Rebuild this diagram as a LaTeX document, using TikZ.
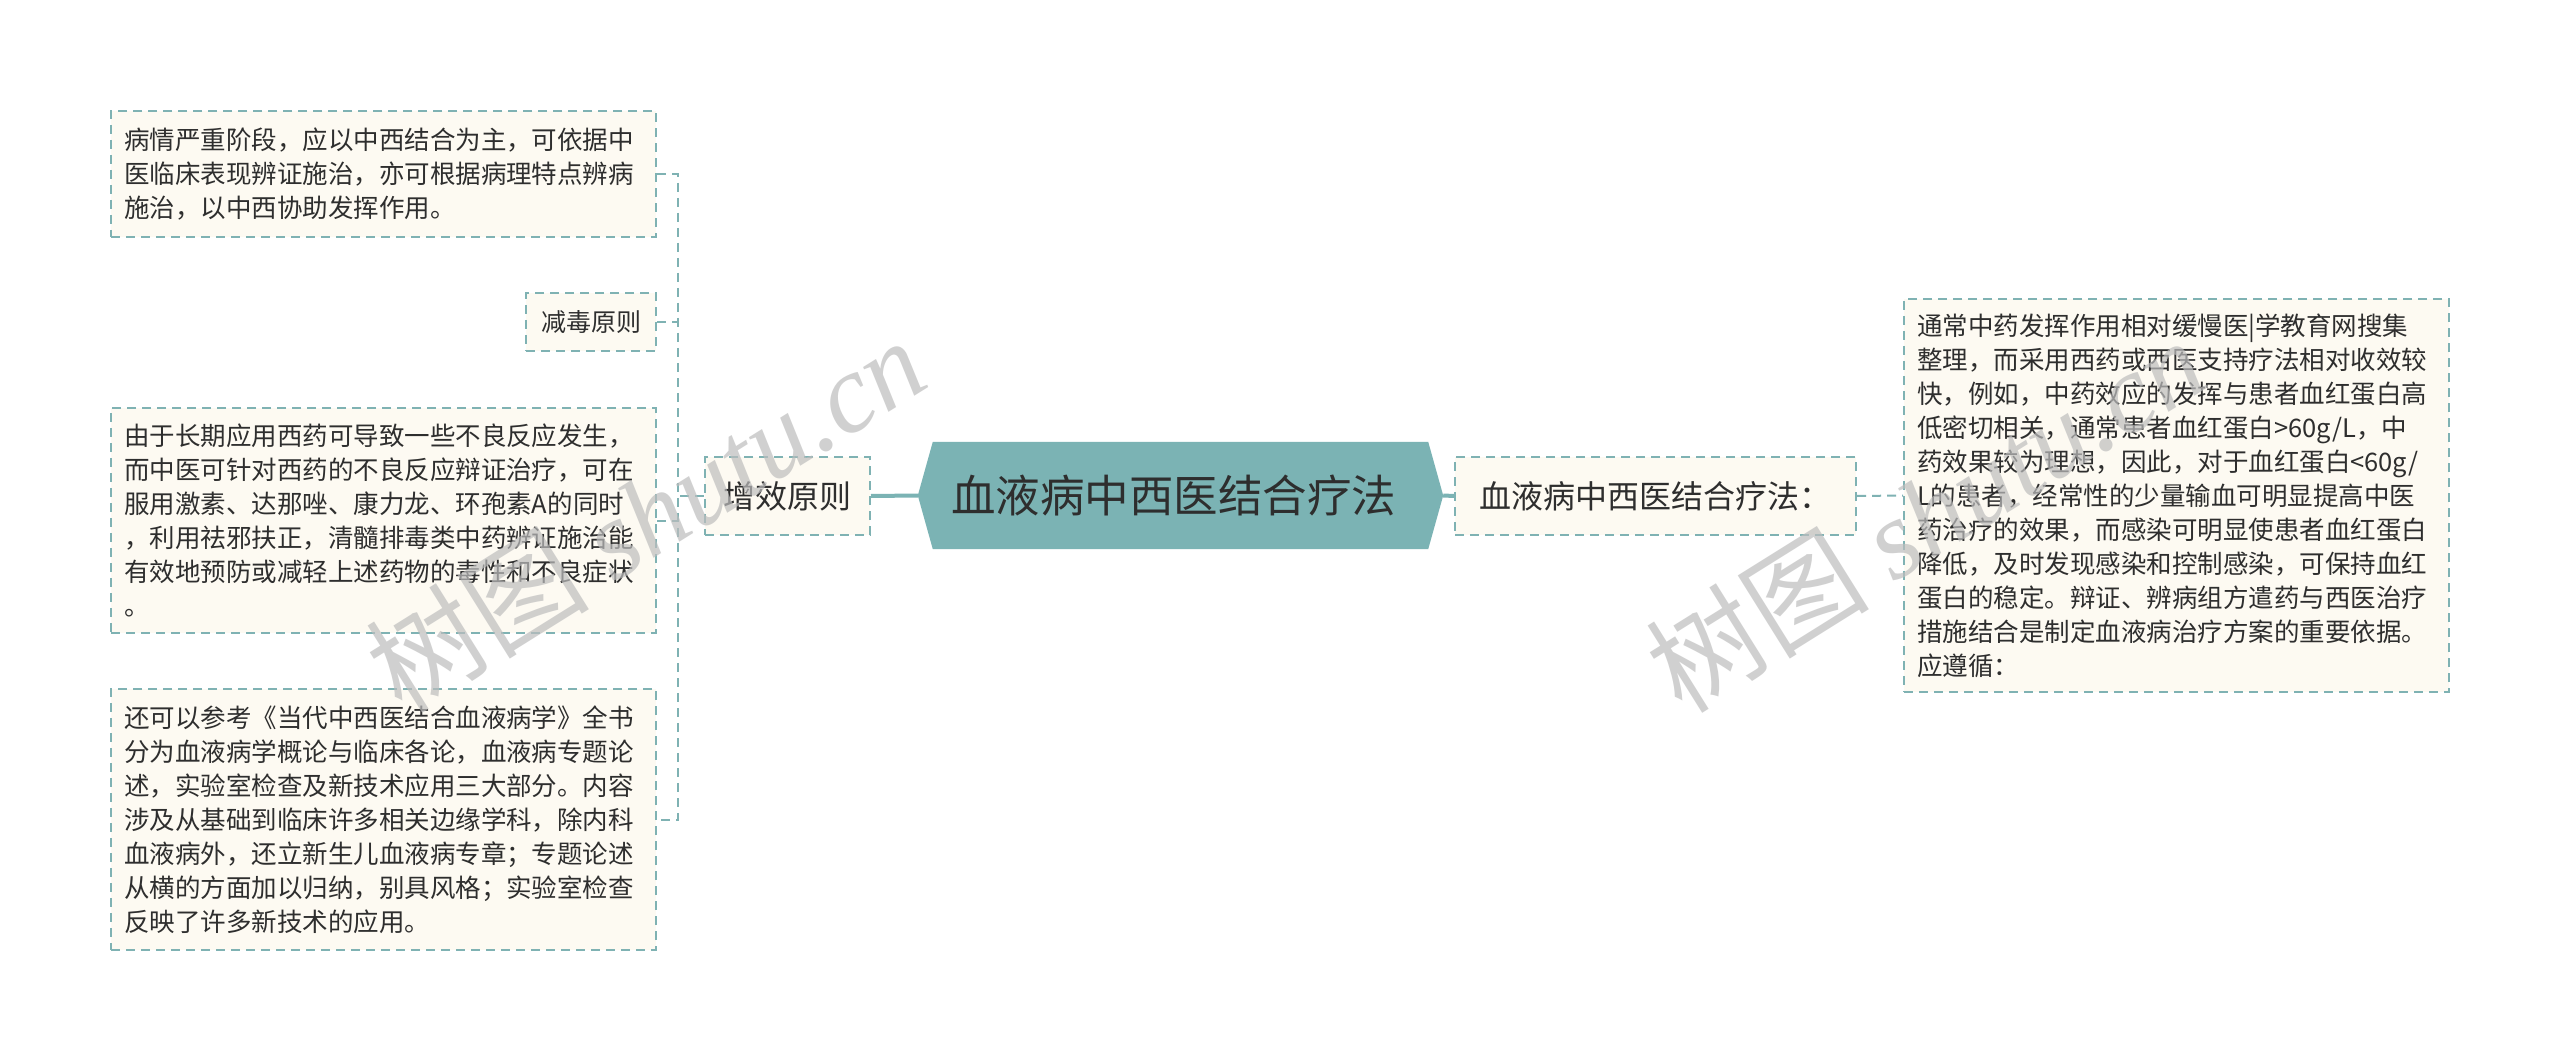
\documentclass[tikz,border=0pt]{standalone}
\usepackage{fontspec}
\newfontfamily\cjk{Noto Sans CJK SC}
\newfontfamily\wmserif{Liberation Serif}
\usetikzlibrary{backgrounds}
\definecolor{hexfill}{HTML}{7BB3B4}
\definecolor{dashc}{HTML}{7FB2B3}
\definecolor{cream}{HTML}{FDFAF2}
\definecolor{txt}{HTML}{2E2E2E}
\definecolor{wmgray}{HTML}{BDBDBD}
\tikzset{
  leaf/.style={draw=dashc, dash pattern=on 9pt off 6pt, line width=2pt, fill=cream,
    inner xsep=13pt, inner ysep=0pt, text width=519pt, align=left, text=txt,
    font=\cjk\fontsize{25.5}{34}\selectfont},
  tag/.style={draw=dashc, dash pattern=on 9pt off 6pt, line width=2pt, fill=cream,
    inner sep=0pt, align=center, text=txt},
  dconn/.style={draw=dashc, dash pattern=on 9pt off 6pt, line width=2pt},
  sconn/.style={draw=hexfill, line width=4pt},
  wm/.style={text=wmgray, opacity=0.7, inner sep=0pt}
}
\begin{document}
\begin{tikzpicture}[x=1pt,y=-1pt]
\useasboundingbox (0,0) rectangle (2560,1059);
% left children
\node[leaf, minimum height=126pt] (b1) at (383.5,174) {病情严重阶段，应以中西结合为主，可依据中\\医临床表现辨证施治，亦可根据病理特点辨病\\施治，以中西协助发挥作用。};
\node[tag, minimum width=130pt, minimum height=58pt, font=\cjk\fontsize{25}{30}\selectfont] (b2) at (591,322) {减毒原则};
\node[leaf, minimum height=225pt] (b3) at (383.5,520.5) {由于长期应用西药可导致一些不良反应发生，\\而中医可针对西药的不良反应辩证治疗，可在\\服用激素、达那唑、康力龙、环孢素A的同时\\，利用祛邪扶正，清髓排毒类中药辨证施治能\\有效地预防或减轻上述药物的毒性和不良症状\\。};
\node[leaf, minimum height=261pt] (b4) at (383.5,819.5) {还可以参考《当代中西医结合血液病学》全书\\分为血液病学概论与临床各论，血液病专题论\\述，实验室检查及新技术应用三大部分。内容\\涉及从基础到临床许多相关边缘学科，除内科\\血液病外，还立新生儿血液病专章；专题论述\\从横的方面加以归纳，别具风格；实验室检查\\反映了许多新技术的应用。};
% branch left
\node[tag, minimum width=165pt, minimum height=78pt, font=\cjk\fontsize{32}{38}\selectfont] (zx) at (787.5,496) {增效原则};
% hub
\node[inner sep=0pt, minimum width=525pt, minimum height=107pt, text=txt, font=\cjk\fontsize{44.5}{52}\selectfont] (hub) at (1180.5,495.5) {血液病中西医结合疗法\hspace*{14pt}};
\begin{scope}[on background layer]
  \fill[white] (0,0) rectangle (2560,1059);
  \fill[hexfill] (hub.west) -- ([xshift=15pt]hub.north west) -- ([xshift=-15pt]hub.north east) -- (hub.east) -- ([xshift=-15pt]hub.south east) -- ([xshift=15pt]hub.south west) -- cycle;
\end{scope}
% right branch
\node[tag, minimum width=401pt, minimum height=78pt, font=\cjk\fontsize{32}{38}\selectfont] (rl) at (1655.5,496) {血液病中西医结合疗法：};
\node[leaf, minimum height=393pt] (rb) at (2176.5,495.5) {通常中药发挥作用相对缓慢医|学教育网搜集\\整理，而采用西药或西医支持疗法相对收效较\\快，例如，中药效应的发挥与患者血红蛋白高\\低密切相关，通常患者血红蛋白>60g/L，中\\药效果较为理想，因此，对于血红蛋白<60g/\\L的患者，经常性的少量输血可明显提高中医\\药治疗的效果，而感染可明显使患者血红蛋白\\降低，及时发现感染和控制感染，可保持血红\\蛋白的稳定。辩证、辨病组方遣药与西医治疗\\措施结合是制定血液病治疗方案的重要依据。\\应遵循：};
% connectors
\coordinate (tr) at (678,0);
\draw[dconn] (b1.east) -- (b1.east -| tr) -- (b4.east -| tr) -- (b4.east);
\draw[dconn] (b2.east) -- (b2.east -| tr);
\draw[dconn] (b3.east) -- (b3.east -| tr);
\draw[dconn] (zx.west) -- (zx.west -| tr);
\draw[sconn] (hub.west) -- (zx.east);
\draw[sconn] (hub.east) -- (rl.west);
\draw[dconn] (rl.east) -- (rb.west);
% watermarks
\node[wm, rotate=32] (w1) at (645,514) {\cjk\fontsize{112}{112}\selectfont 树图 \wmserif\itshape shutu.cn};
\node[wm, rotate=32] (w2) at (1925,514) {\cjk\fontsize{112}{112}\selectfont 树图 \wmserif\itshape shutu.cn};
\end{tikzpicture}
\end{document}
